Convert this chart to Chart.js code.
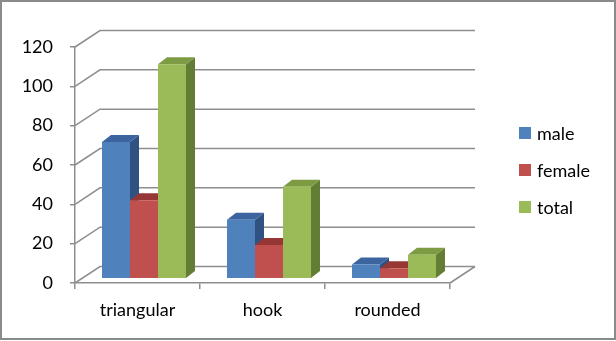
<!DOCTYPE html>
<html>
<head>
<meta charset="utf-8">
<script src="https://cdn.jsdelivr.net/npm/chart.js@4/dist/chart.umd.min.js"></script>
<style>
  html, body { margin: 0; padding: 0; background: #fff; }
  canvas { display: block; }
</style>
</head>
<body>
<canvas id="chart" width="616" height="341"></canvas>
<script>
"use strict";

// values
const categories = ["triangular", "hook", "rounded"];
const male = [70, 30, 7];
const female = [40, 17, 5];
const total = [110, 47, 12];
const seriesNames = ["male", "female", "total"];

const fontFamily = "Lato, 'Open Sans', sans-serif";
const fontSize = 18;
const gridColor = "#8e8e8e";
const fronts = ["#4F81BD", "#C0504D", "#9BBB59"];
const tops = ["#3C65A0", "#963735", "#7C9B43"];
const sides = ["#2F5283", "#85302E", "#647D34"];

// fake 3d depth
const WALL_DX = 25;
const WALL_DY = 16.5;
const BAR_SHIFT_X = 6.5;
const BAR_SHIFT_Y = -5;
const BAR_DX = 9;
const BAR_DY = 7;

function line(ctx, pts) {
  ctx.beginPath();
  ctx.moveTo(pts[0][0], pts[0][1]);
  for (let i = 1; i < pts.length; i++) ctx.lineTo(pts[i][0], pts[i][1]);
  ctx.stroke();
}

function poly(ctx, pts, color) {
  ctx.beginPath();
  ctx.moveTo(pts[0][0], pts[0][1]);
  for (let i = 1; i < pts.length; i++) ctx.lineTo(pts[i][0], pts[i][1]);
  ctx.closePath();
  ctx.fillStyle = color;
  ctx.fill();
}

const threeD = {
  id: "threeD",
  beforeDraw(chart) {
    const ctx = chart.ctx;
    ctx.save();
    ctx.strokeStyle = "#8a8a8a";
    ctx.lineWidth = 2;
    ctx.strokeRect(1, 1, 614, 338);
    ctx.restore();
  },
  beforeDatasetsDraw(chart) {
    const ctx = chart.ctx;
    const area = chart.chartArea;
    const y = chart.scales.y;

    // back wall + side wall lines
    ctx.save();
    ctx.strokeStyle = gridColor;
    ctx.lineWidth = 1.5;
    y.ticks.forEach((t) => {
      const py = y.getPixelForValue(t.value);
      line(ctx, [
        [area.left, py],
        [area.left + WALL_DX, py - WALL_DY],
        [area.right + WALL_DX, py - WALL_DY],
      ]);
    });
    line(ctx, [
      [area.right, area.bottom],
      [area.right + WALL_DX, area.bottom - WALL_DY],
    ]);
    ctx.restore();

    // bars sit half way into the floor
    ctx.save();
    ctx.translate(BAR_SHIFT_X, BAR_SHIFT_Y);
    const metas = chart.getSortedVisibleDatasetMetas();
    categories.forEach((c, j) => {
      metas.forEach((meta) => {
        const el = meta.data[j];
        const i = meta.index;
        const p = el.getProps(["x", "y", "base", "width"], true);
        const l = p.x - p.width / 2;
        const r = p.x + p.width / 2;
        poly(ctx, [[r, p.y], [r + BAR_DX, p.y - BAR_DY], [r + BAR_DX, p.base - BAR_DY], [r, p.base]], sides[i]);
        poly(ctx, [[l, p.y], [r, p.y], [r + BAR_DX, p.y - BAR_DY], [l + BAR_DX, p.y - BAR_DY]], tops[i]);
      });
    });
  },
  afterDatasetsDraw(chart) {
    chart.ctx.restore();
  },
  afterDraw(chart) {
    const ctx = chart.ctx;
    ctx.save();
    ctx.font = fontSize + "px " + fontFamily;
    ctx.textBaseline = "middle";
    seriesNames.forEach((name, i) => {
      const cy = 133 + i * 37;
      ctx.fillStyle = fronts[i];
      ctx.fillRect(519, cy - 6, 12, 12);
      ctx.fillStyle = "#000";
      ctx.fillText(name, 537, cy + 1);
    });
    ctx.restore();
  },
};

const seriesValues = [male, female, total];

new Chart(document.getElementById("chart"), {
  type: "bar",
  data: {
    labels: categories,
    datasets: seriesNames.map((name, i) => ({
      label: name,
      data: seriesValues[i],
      backgroundColor: fronts[i],
      borderWidth: 0,
      yAxisID: "yb",
      categoryPercentage: 0.672,
      barPercentage: 1,
    })),
  },
  options: {
    responsive: false,
    animation: false,
    devicePixelRatio: 1,
    layout: { padding: { top: 47, right: 166, left: 0, bottom: 0 } },
    plugins: { legend: { display: false }, tooltip: { enabled: false } },
    scales: {
      x: {
        afterFit(s) { s.height = 58; },
        grid: { drawOnChartArea: false, tickLength: 6, color: gridColor, lineWidth: 1.5 },
        border: { color: gridColor, width: 1.5 },
        ticks: { color: "#000", padding: 10, font: { size: fontSize, family: fontFamily } },
      },
      y: {
        min: 0,
        max: 120,
        afterFit(s) { s.width = 75; },
        grid: { drawOnChartArea: false, tickLength: 5, color: gridColor, lineWidth: 1.5 },
        border: { color: gridColor, width: 1.5 },
        ticks: { stepSize: 20, color: "#000", padding: 17, font: { size: fontSize, family: fontFamily } },
      },
      yb: { display: false, min: 0, max: 121.5 },
    },
  },
  plugins: [threeD],
});
</script>
</body>
</html>
